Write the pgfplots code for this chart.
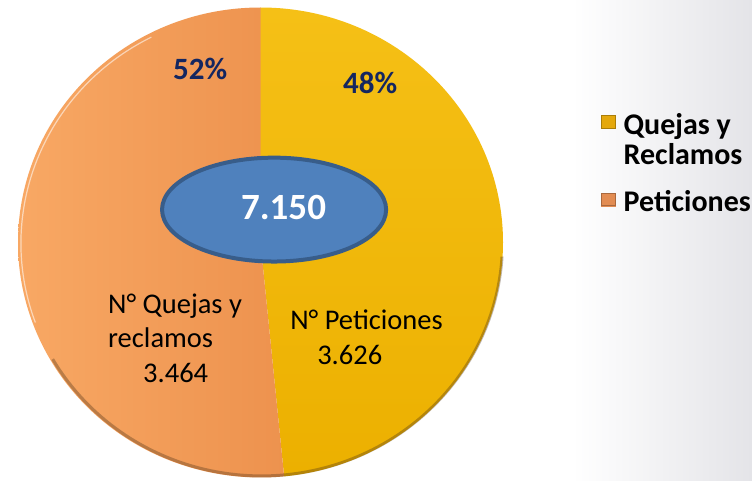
\documentclass[border=0pt]{standalone}
\usepackage{pgfplots}
\pgfplotsset{compat=1.18}
\usepackage{fontspec}
\setmainfont{Carlito}

\definecolor{amarillo1}{RGB}{245,192,22}
\definecolor{amarillo2}{RGB}{236,176,0}
\definecolor{naranja1}{RGB}{248,168,100}
\definecolor{naranja2}{RGB}{237,146,78}
\definecolor{mamarillo}{RGB}{228,168,12}
\definecolor{mnaranja}{RGB}{226,140,82}
\definecolor{elipse}{RGB}{79,129,189}
\definecolor{borde}{RGB}{56,93,138}
\definecolor{azul}{RGB}{20,38,96}
\definecolor{fondo}{RGB}{228,228,232}

\pgfplotsset{
  marcaQ/.style={legend image code/.code={
    \fill[mamarillo] (0pt,6pt) rectangle (14pt,19pt);
    \draw[black, opacity=0.25, line width=0.6pt] (0.3pt,6.3pt) rectangle (13.7pt,18.7pt);}},
  marcaP/.style={legend image code/.code={
    \fill[mnaranja] (0pt,6pt) rectangle (14pt,19pt);
    \draw[black, opacity=0.25, line width=0.6pt] (0.3pt,6.3pt) rectangle (13.7pt,18.7pt);}},
}

% valores de los sectores
\def\quejas{3464}
\def\peticiones{3686}
\pgfmathsetmacro{\total}{\quejas+\peticiones}
\pgfmathsetmacro{\angQ}{\quejas/\total*360}

\begin{document}
\begin{tikzpicture}
\useasboundingbox (0pt,0pt) rectangle (752pt,480pt);
\fill[white] (0pt,0pt) rectangle (752pt,480pt);
\shade[left color=white, right color=fondo] (572pt,0pt) rectangle (752pt,480pt);

\begin{axis}[
    at={(260.5pt,237.5pt)}, anchor=center,
    scale only axis, width=485pt, height=470pt,
    xmin=-1, xmax=1, ymin=-1, ymax=1,
    hide axis, clip=false,
    legend style={draw=none, fill=none,
        at={(axis description cs:1.196,0.784)}, anchor=north west,
        font=\fontsize{30}{30}\selectfont\bfseries,
        cells={anchor=base west}, row sep=51pt,
        /tikz/every odd column/.append style={column sep=6pt}},
]
\addlegendimage{marcaQ}
\addlegendentry{\begin{tabular}[t]{@{}l@{}}Quejas y\\Reclamos\end{tabular}}
\addlegendimage{marcaP}
\addlegendentry{Peticiones}

% sectores
\shade[top color=amarillo1, bottom color=amarillo2] (axis cs:0,0) -- (axis cs:0,1)
    arc[start angle=90, end angle={90-\angQ}, x radius=1, y radius=1] -- cycle;
\shade[left color=naranja1, right color=naranja2] (axis cs:0,0) -- (axis cs:0,1)
    arc[start angle=90, end angle={450-\angQ}, x radius=1, y radius=1] -- cycle;
% borde con relieve
\draw[black!60!brown, opacity=0.35, line width=3pt] (axis cs:0.996,-0.06)
    arc[start angle=-3.5, end angle=-150, x radius=0.994, y radius=0.994];
\draw[white, opacity=0.55, line width=1.2pt] (axis cs:-0.45,0.874)
    arc[start angle=117, end angle=200, x radius=0.985, y radius=0.985];

% elipse central
\draw[borde, fill=elipse, line width=4pt] (axis cs:0.056,0.140) ellipse[x radius=0.462, y radius=0.221];
\node[white, font=\fontsize{37}{40}\selectfont\bfseries] at (axis cs:0.095,0.149) {7.150};

% porcentajes
\node[azul, font=\fontsize{31}{32}\selectfont\bfseries] at (axis cs:-0.249,0.738) {52\%};
\node[azul, font=\fontsize{31}{32}\selectfont\bfseries] at (axis cs:0.452,0.679) {48\%};

% etiquetas
\node[anchor=base west, inner sep=0pt, font=\fontsize{28.5}{34.5}\selectfont] at (axis cs:-0.629,-0.300)
    {\begin{tabular}[t]{@{}l@{}}N° Quejas y\\reclamos\\\hspace*{35pt}3.464\end{tabular}};
\node[anchor=base west, inner sep=0pt, font=\fontsize{28.5}{34.5}\selectfont] at (axis cs:0.122,-0.372)
    {\begin{tabular}[t]{@{}l@{}}N° Peticiones\\\hspace*{27pt}3.626\end{tabular}};
\end{axis}
\end{tikzpicture}
\end{document}
